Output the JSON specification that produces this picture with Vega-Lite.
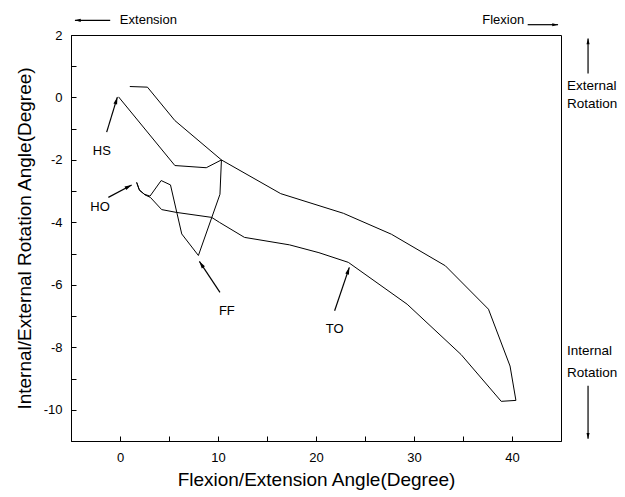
{
  "$schema": "https://vega.github.io/schema/vega-lite/v6.json",
  "width": 490,
  "height": 406,
  "autosize": {"type": "none"},
  "padding": {"left": 71, "top": 35, "right": 64, "bottom": 56},
  "background": "white",
  "config": {
    "view": {"stroke": "black", "strokeWidth": 1},
    "axis": {
      "grid": false,
      "domainColor": "black",
      "tickColor": "black",
      "labelColor": "black",
      "titleColor": "black",
      "labelFont": "Liberation Sans",
      "titleFont": "Liberation Sans",
      "labelFontSize": 13,
      "titleFontSize": 19,
      "titleFontWeight": "normal"
    },
    "text": {"font": "Liberation Sans"}
  },
  "datasets": {
    "curve": [
      {"x": -0.15, "y": 0.02},
      {"x": 5.6, "y": -2.18},
      {"x": 8.8, "y": -2.25},
      {"x": 10.35, "y": -2.0},
      {"x": 10.2, "y": -3.1},
      {"x": 8.0, "y": -5.06},
      {"x": 6.3, "y": -4.37},
      {"x": 5.15, "y": -2.8},
      {"x": 4.2, "y": -2.66},
      {"x": 3.06, "y": -3.16},
      {"x": 2.5, "y": -3.1},
      {"x": 2.0, "y": -2.98},
      {"x": 1.7, "y": -2.72},
      {"x": 1.95, "y": -2.95},
      {"x": 2.55, "y": -3.12},
      {"x": 3.1, "y": -3.2},
      {"x": 4.25, "y": -3.59},
      {"x": 5.75, "y": -3.68},
      {"x": 9.35, "y": -3.84},
      {"x": 10.15, "y": -4.0},
      {"x": 12.7, "y": -4.48},
      {"x": 17.3, "y": -4.72},
      {"x": 20.3, "y": -4.97},
      {"x": 23.3, "y": -5.28},
      {"x": 29.3, "y": -6.62},
      {"x": 34.8, "y": -8.23},
      {"x": 38.9, "y": -9.73},
      {"x": 40.4, "y": -9.7},
      {"x": 39.8, "y": -8.6},
      {"x": 37.6, "y": -6.78},
      {"x": 33.2, "y": -5.39},
      {"x": 27.7, "y": -4.38},
      {"x": 22.8, "y": -3.71},
      {"x": 16.4, "y": -3.08},
      {"x": 10.35, "y": -2.0},
      {"x": 5.6, "y": -0.74},
      {"x": 2.8, "y": 0.33},
      {"x": 1.0, "y": 0.35}
    ],
    "arrows": [
      {"k": "HS", "x": -0.27, "y": 0.01, "xt": -1.36, "yt": -1.11},
      {"k": "HO", "x": 1.19, "y": -2.8, "xt": -1.19, "yt": -3.2},
      {"k": "FF", "x": 8.1, "y": -5.25, "xt": 10.2, "yt": -6.24},
      {"k": "TO", "x": 23.4, "y": -5.44, "xt": 21.9, "yt": -6.83},
      {"k": "EXT", "x": -4.6, "y": 2.47, "xt": -1.0, "yt": 2.47},
      {"k": "FLX", "x": 44.7, "y": 2.33, "xt": 41.6, "yt": 2.33},
      {"k": "ER", "x": 47.76, "y": 1.89, "xt": 47.76, "yt": 0.77},
      {"k": "IR", "x": 47.76, "y": -10.93, "xt": 47.76, "yt": -9.23}
    ],
    "labels": [
      {"t": "HS", "x": -1.86, "y": -1.7},
      {"t": "HO", "x": -2.04, "y": -3.52},
      {"t": "FF", "x": 10.9, "y": -6.83},
      {"t": "TO", "x": 21.9, "y": -7.41},
      {"t": "Extension", "x": 2.9, "y": 2.47},
      {"t": "Flexion", "x": 39.1, "y": 2.47}
    ],
    "side": [
      {"t": "External", "x": 45.6, "y": 0.36},
      {"t": "Rotation", "x": 45.6, "y": -0.22},
      {"t": "Internal", "x": 45.6, "y": -8.12},
      {"t": "Rotation", "x": 45.6, "y": -8.81}
    ]
  },
  "encoding": {
    "x": {
      "field": "x",
      "type": "quantitative",
      "scale": {"domain": [-5, 45], "nice": false, "zero": false},
      "axis": {
        "title": "Flexion/Extension Angle(Degree)",
        "values": [0, 5, 10, 15, 20, 25, 30, 35, 40],
        "labelExpr": "datum.value % 10 === 0 ? '' + datum.value : ''",
        "tickSize": -5,
        "labelPadding": 15,
        "titlePadding": 6
      }
    },
    "y": {
      "field": "y",
      "type": "quantitative",
      "scale": {"domain": [-11, 2], "nice": false, "zero": false},
      "axis": {
        "title": "Internal/External Rotation Angle(Degree)",
        "values": [-10, -9, -8, -7, -6, -5, -4, -3, -2, -1, 0, 1, 2],
        "labelExpr": "datum.value % 2 === 0 ? '' + datum.value : ''",
        "tickSize": -5,
        "labelPadding": 14,
        "titlePadding": 9
      }
    }
  },
  "layer": [
    {
      "data": {"name": "curve"},
      "mark": {"type": "line", "color": "black", "strokeWidth": 1},
      "encoding": {"order": {"value": null}}
    },
    {
      "data": {"name": "arrows"},
      "mark": {"type": "rule", "color": "black", "strokeWidth": 1.2},
      "encoding": {"x2": {"field": "xt"}, "y2": {"field": "yt"}}
    },
    {
      "data": {"name": "arrows"},
      "transform": [{"filter": "datum.k === 'HS'"}],
      "mark": {"type": "point", "shape": "M0,0L0.7,2.6L-0.7,2.6Z", "filled": true, "color": "black", "opacity": 1, "size": 30, "angle": 17}
    },
    {
      "data": {"name": "arrows"},
      "transform": [{"filter": "datum.k === 'HO'"}],
      "mark": {"type": "point", "shape": "M0,0L0.7,2.6L-0.7,2.6Z", "filled": true, "color": "black", "opacity": 1, "size": 30, "angle": 62}
    },
    {
      "data": {"name": "arrows"},
      "transform": [{"filter": "datum.k === 'FF'"}],
      "mark": {"type": "point", "shape": "M0,0L0.7,2.6L-0.7,2.6Z", "filled": true, "color": "black", "opacity": 1, "size": 30, "angle": -34}
    },
    {
      "data": {"name": "arrows"},
      "transform": [{"filter": "datum.k === 'TO'"}],
      "mark": {"type": "point", "shape": "M0,0L0.7,2.6L-0.7,2.6Z", "filled": true, "color": "black", "opacity": 1, "size": 30, "angle": 18}
    },
    {
      "data": {"name": "arrows"},
      "transform": [{"filter": "datum.k === 'EXT'"}],
      "mark": {"type": "point", "shape": "M0,0L0.7,2.6L-0.7,2.6Z", "filled": true, "color": "black", "opacity": 1, "size": 20, "angle": -90}
    },
    {
      "data": {"name": "arrows"},
      "transform": [{"filter": "datum.k === 'FLX'"}],
      "mark": {"type": "point", "shape": "M0,0L0.7,2.6L-0.7,2.6Z", "filled": true, "color": "black", "opacity": 1, "size": 20, "angle": 90}
    },
    {
      "data": {"name": "arrows"},
      "transform": [{"filter": "datum.k === 'ER'"}],
      "mark": {"type": "point", "shape": "M0,0L0.7,2.6L-0.7,2.6Z", "filled": true, "color": "black", "opacity": 1, "size": 20, "angle": 0}
    },
    {
      "data": {"name": "arrows"},
      "transform": [{"filter": "datum.k === 'IR'"}],
      "mark": {"type": "point", "shape": "M0,0L0.7,2.6L-0.7,2.6Z", "filled": true, "color": "black", "opacity": 1, "size": 20, "angle": 180}
    },
    {
      "data": {"name": "labels"},
      "mark": {"type": "text", "color": "black", "fontSize": 13, "align": "center", "baseline": "middle"},
      "encoding": {"text": {"field": "t"}}
    },
    {
      "data": {"name": "side"},
      "mark": {"type": "text", "color": "black", "fontSize": 13.5, "align": "left", "baseline": "middle"},
      "encoding": {"text": {"field": "t"}}
    }
  ]
}
